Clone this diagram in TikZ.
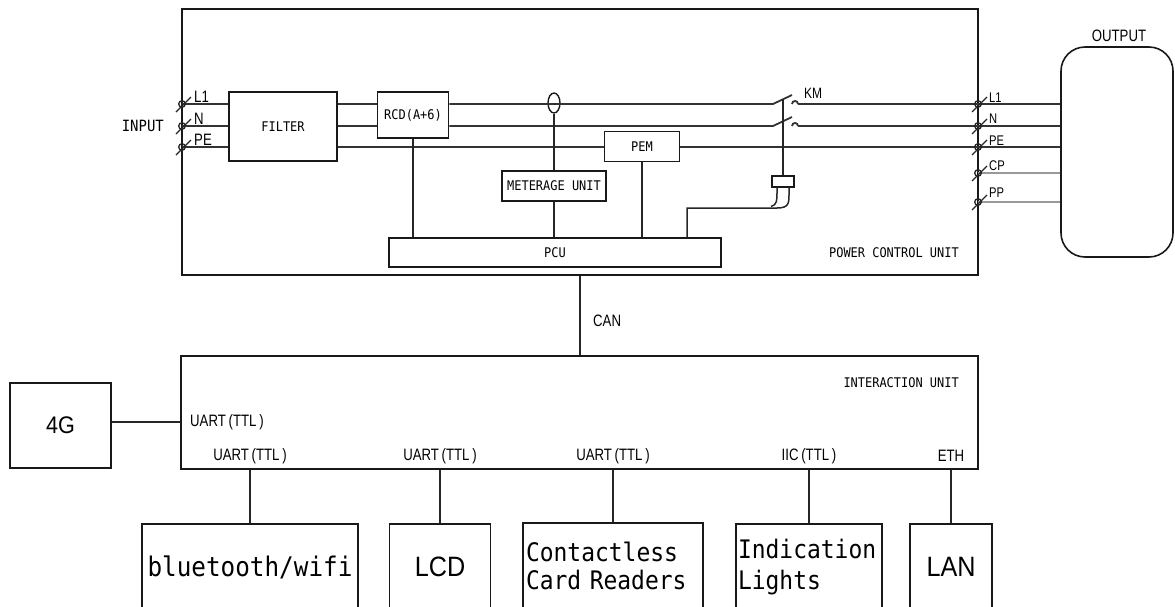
\documentclass[tikz,border=0pt]{standalone}
\usepackage{fontspec}
\setmainfont{Liberation Sans}
\newfontfamily\nsans[FakeStretch=0.8]{Liberation Sans}
\newfontfamily\nmono[FakeStretch=0.9]{DejaVu Sans Mono}
\newfontfamily\wsans[FakeStretch=0.9]{Liberation Sans}
\usetikzlibrary{shapes.geometric}
\tikzset{
  wire/.style={line width=1.8pt, black!80},
  greywire/.style={line width=1.4pt, black!40},
  link/.style={line width=1.5pt, black!85},
  blk/.style={draw=black!90, line width=1.6pt, inner sep=0pt, anchor=center},
  lowblk/.style={draw=black!90, line width=1.4pt, inner sep=0pt, anchor=center, minimum height=86pt},
  lbl/.style={inner sep=0pt, font=\nsans\fontsize{16.5}{16.5}\selectfont},
  slbl/.style={inner sep=0pt, font=\nsans\fontsize{14}{14}\selectfont},
  smono/.style={font=\nmono\fontsize{13.3}{14}\selectfont},
  bmono/.style={font=\nmono\fontsize{27}{27}\selectfont},
  bsans/.style={font=\wsans\fontsize{28}{28}\selectfont},
  term/.pic={\draw[line width=1.3pt, black!85] (0,0) circle (3.3pt);
             \draw[line width=1.3pt, black!85] (-6,8) -- (9,-7);}
}
\begin{document}
\begin{tikzpicture}[x=1pt,y=-1pt]
\useasboundingbox (0,0) rectangle (1175,606);
\begin{scope}
\clip (0,0) rectangle (1175,606);

% ---------- power control unit ----------
\node[blk, minimum width=796pt, minimum height=266pt] (powerbox) at (580,142) {};
\node[smono, inner sep=0pt, anchor=east] (pcutitle) at (959,253) {POWER CONTROL UNIT};

\node[blk, minimum width=108pt, minimum height=69pt, smono] (filter) at (283,126.5) {FILTER};
\node[blk, minimum width=71pt, minimum height=46pt, smono] (rcd) at (413,115) {RCD(A+6)};
\node[blk, minimum width=104pt, minimum height=30pt, smono] (meter) at (554,186) {METERAGE UNIT};
\node[blk, minimum width=75pt, minimum height=30pt, smono] (pem) at (642,146.5) {PEM};
\node[blk, minimum width=332pt, minimum height=29pt, smono] (pcu) at (555,252.5) {PCU};
\node[blk, line width=1.4pt, minimum width=22pt, minimum height=11pt] (coil) at (783,181.5) {};
\node[draw=black!90, line width=1.4pt, ellipse, inner sep=0pt, minimum width=12pt, minimum height=20pt] (ct) at (554,103) {};

% terminals
\coordinate (inL1) at (182,104);
\coordinate (inN) at (182,126);
\coordinate (inPE) at (182,147);
\coordinate (outL1) at (978,104);
\coordinate (outN) at (978,126);
\coordinate (outPE) at (978,147);
\coordinate (outCP) at (978,173);
\coordinate (outPP) at (978,202);

% output
\node[draw=black!90, line width=1.6pt, rounded corners=24pt, inner sep=0pt,
      minimum width=112pt, minimum height=210pt] (output) at (1117,152) {};
\node[lbl] (outputlbl) at (1119,36) {OUTPUT};

% switch points
\coordinate (swL1a) at (773,104);
\coordinate (swL1b) at (792,95);
\coordinate (swL1c) at (798,104);
\coordinate (swNa) at (773,126);
\coordinate (swNb) at (792,117);
\coordinate (swNc) at (798,126);
\coordinate (mech) at (783,99.3);

% ---------- wires ----------
\draw[wire] (inL1) -- (filter.west |- inL1);
\draw[wire] (inN) -- (filter.west |- inN);
\draw[wire] (inPE) -- (filter.west |- inPE);
\draw[wire] (filter.east |- inL1) -- (rcd.west |- inL1);
\draw[wire] (filter.east |- inN) -- (rcd.west |- inN);
\draw[wire] (filter.east |- inPE) -- (pem.west |- inPE);
\draw[wire] (rcd.east |- inL1) -- (swL1a) -- (swL1b);
\draw[wire] (rcd.east |- inN) -- (swNa) -- (swNb);
\draw[wire] (pem.east |- inPE) -- (outPE);
\draw[wire] (792,104) .. controls (792,100) and (798,100) .. (798,104);
\draw[wire] (792,126) .. controls (792,122) and (798,122) .. (798,126);
\draw[wire] (swL1c) -- (outL1);
\draw[wire] (swNc) -- (outN);
\draw[wire] (outL1) -- (output.west |- outL1);
\draw[wire] (outN) -- (output.west |- outN);
\draw[wire] (outPE) -- (output.west |- outPE);
\draw[greywire] (outCP) -- (output.west |- outCP);
\draw[greywire] (outPP) -- (output.west |- outPP);

% control links
\draw[link] (mech) -- (coil.north);
\draw[link] (ct.south) -- (meter.north);
\draw[link] (meter.south) -- (meter.south |- pcu.north);
\draw[link] (pem.south) -- (pem.south |- pcu.north);
\draw[link] (rcd.south) -- (rcd.south |- pcu.north);
\draw[link] (pcu.north -| 687,0) -- (687,208) -- (777,208)
   .. controls (789,208) and (789,203) .. (789,194) -- (789,187);
\draw[link] (771,206.5) .. controls (777,205) and (777,200) .. (777,193) -- (777,187);

% terminal symbols
\foreach \t in {inL1,inN,inPE,outL1,outN,outPE,outCP,outPP}
  \pic at (\t) {term};

% labels
\node[lbl, anchor=west] (lin1) at (194,97) {L1};
\node[lbl, anchor=west] (linN) at (194,119) {N};
\node[lbl, anchor=west] (linPE) at (194,140) {PE};
\node[font=\nmono\fontsize{15.5}{15.5}\selectfont, inner sep=0pt, anchor=east] (inputlbl) at (164,126) {INPUT};
\node[slbl, anchor=west] (lo1) at (989,98) {L1};
\node[slbl, anchor=west] (loN) at (989,119) {N};
\node[slbl, anchor=west] (loPE) at (989,141) {PE};
\node[slbl, anchor=west] (loCP) at (989,166) {CP};
\node[slbl, anchor=west] (loPP) at (989,193) {PP};
\node[lbl, anchor=west, font=\nsans\fontsize{15}{15}\selectfont] (kmlbl) at (804,93) {KM};

% ---------- interaction unit ----------
\node[blk, minimum width=797pt, minimum height=113pt] (inter) at (579.5,412.5) {};
\node[smono, inner sep=0pt, anchor=east] (intertitle) at (959,383) {INTERACTION UNIT};
\draw[link] (powerbox.south) -- (powerbox.south |- inter.north);
\node[lbl, anchor=west] (canlbl) at (593,321) {CAN};

\node[blk, minimum width=101pt, minimum height=85pt, font=\wsans\fontsize{24}{24}\selectfont] (g4) at (60.5,425.5) {4G};
\coordinate (uart4g) at (inter.west |- 0,422);
\draw[link] (g4.east |- uart4g) -- (uart4g);
\node[lbl, anchor=west] (u0) at (190,422) {UART\,(TTL\,)};

\node[lbl] (u1) at (250,456) {UART\,(TTL\,)};
\node[lbl] (u2) at (440,456) {UART\,(TTL\,)};
\node[lbl] (u3) at (613,456) {UART\,(TTL\,)};
\node[lbl] (u4) at (809,456) {IIC\,(TTL\,)};
\node[lbl] (u5) at (951,456) {ETH};

% bottom devices
\node[lowblk, minimum width=216pt, bmono] (bt) at (250,567) {bluetooth/wifi};
\node[lowblk, minimum width=101pt, bsans] (lcd) at (440,567) {LCD};
\node[lowblk, minimum width=180pt, font=\nmono\fontsize{25.5}{28}\selectfont, align=left, text width=174pt] (card) at (613,566) {Contactless\\Card Readers};
\node[lowblk, minimum width=146pt, font=\nmono\fontsize{25.5}{31}\selectfont, align=left, text width=142pt] (lights) at (809,567) {Indication\\Lights};
\node[lowblk, minimum width=82pt, bsans] (lan) at (951,567) {LAN};

\foreach \d in {bt,lcd,card,lights,lan}
  \draw[link] (\d.north) -- (\d.north |- inter.south);

\end{scope}
\end{tikzpicture}
\end{document}
